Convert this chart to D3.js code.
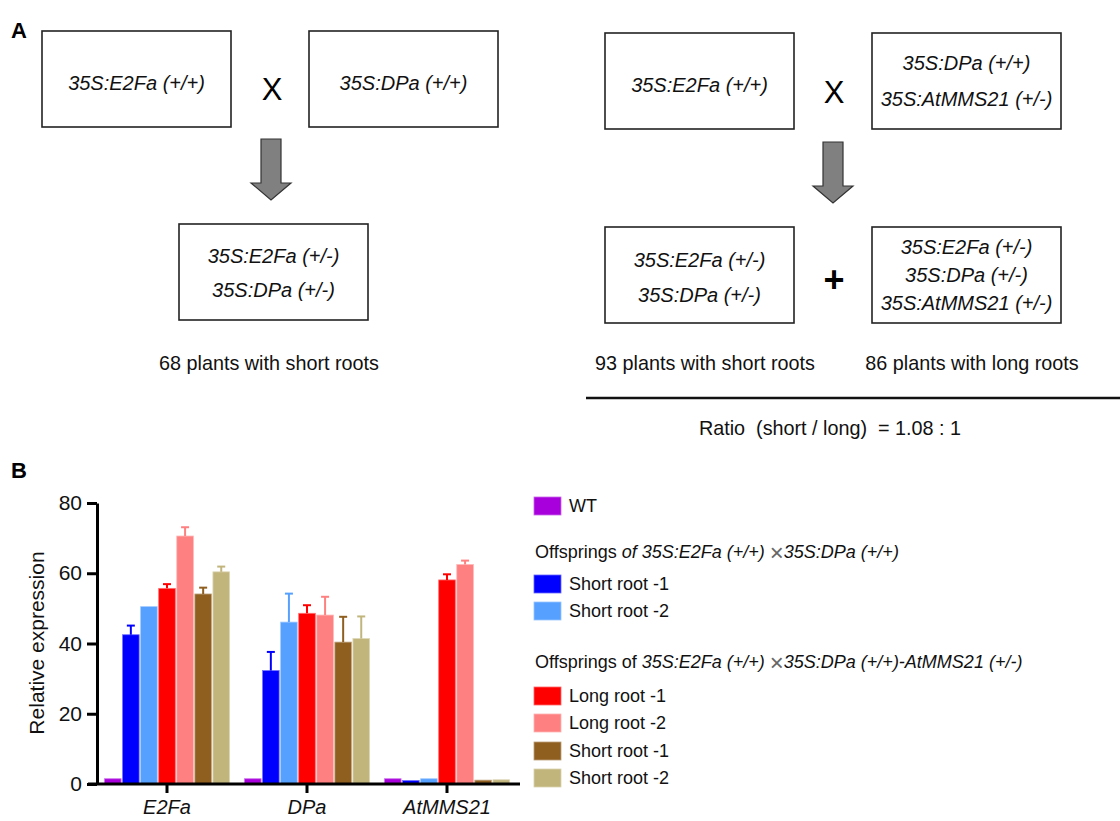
<!DOCTYPE html>
<html>
<head>
<meta charset="utf-8">
<script src="https://cdn.jsdelivr.net/npm/d3@7"></script>
<style>
  body { margin: 0; background: #fff; }
  svg { display: block; font-family: "Liberation Sans", Arial, sans-serif; }
</style>
</head>
<body>
<script>
// ---- data ----
var genes = ["E2Fa", "DPa", "AtMMS21"];
var seriesKeys = ["wt", "s1a", "s2a", "l1", "l2", "s1b", "s2b"];
var wt = [1.5, 1.5, 1.5];
var shortRoot1A = [42.5, 32.3, 1.0];
var shortRoot2A = [50.5, 46.1, 1.5];
var longRoot1 = [55.7, 48.6, 58.1];
var longRoot2 = [70.6, 48.1, 62.5];
var shortRoot1B = [54.1, 40.4, 1.1];
var shortRoot2B = [60.4, 41.4, 1.2];
// upper error bar lengths
var wtErr = [0, 0, 0];
var shortRoot1AErr = [2.6, 5.3, 0];
var shortRoot2AErr = [0, 8.1, 0];
var longRoot1Err = [1.2, 2.3, 1.6];
var longRoot2Err = [2.5, 5.2, 1.1];
var shortRoot1BErr = [1.8, 7.2, 0];
var shortRoot2BErr = [1.5, 6.3, 0];
var yTicks = [0, 20, 40, 60, 80];
var colors = ["#a800dc", "#0000ff", "#56a0ff", "#ff0000", "#ff8080", "#8f5f20", "#c1b57c"];

var means = [wt, shortRoot1A, shortRoot2A, longRoot1, longRoot2, shortRoot1B, shortRoot2B];
var errs = [wtErr, shortRoot1AErr, shortRoot2AErr, longRoot1Err, longRoot2Err, shortRoot1BErr, shortRoot2BErr];

var svg = d3.select("body").append("svg")
    .attr("width", 1120)
    .attr("height", 821);

// ---------------- panel A ----------------
svg.append("text").attr("x", 11).attr("y", 38)
    .attr("font-size", 22).attr("font-weight", "bold").text("A");
svg.append("text").attr("x", 11).attr("y", 478)
    .attr("font-size", 22).attr("font-weight", "bold").text("B");

var boxes = [
  {x: 42, y: 31, lines: ["35S:E2Fa (+/+)"], gap: 0, dy: 4},
  {x: 309, y: 31, lines: ["35S:DPa (+/+)"], gap: 0, dy: 4},
  {x: 179, y: 224, lines: ["35S:E2Fa (+/-)", "35S:DPa (+/-)"], gap: 34, dy: 1},
  {x: 605, y: 33, lines: ["35S:E2Fa (+/+)"], gap: 0, dy: 4},
  {x: 872, y: 33, lines: ["35S:DPa (+/+)", "35S:AtMMS21 (+/-)"], gap: 36, dy: 0},
  {x: 605, y: 227, lines: ["35S:E2Fa (+/-)", "35S:DPa (+/-)"], gap: 35, dy: 2},
  {x: 872, y: 227, lines: ["35S:E2Fa (+/-)", "35S:DPa (+/-)", "35S:AtMMS21 (+/-)"], gap: 28, dy: 0}
];
var bw = 189, bh = 96;
var bg = svg.append("g").selectAll("g").data(boxes).enter().append("g");
bg.append("rect")
    .attr("x", function (d) { return d.x; })
    .attr("y", function (d) { return d.y; })
    .attr("width", bw).attr("height", bh)
    .attr("fill", "none").attr("stroke", "#222").attr("stroke-width", 1.6);
bg.each(function (d) {
  var n = d.lines.length;
  d3.select(this).selectAll("text").data(d.lines).enter().append("text")
      .attr("x", d.x + bw / 2)
      .attr("y", function (t, i) { return d.y + bh / 2 + d.dy + (i - (n - 1) / 2) * d.gap; })
      .attr("text-anchor", "middle").attr("dominant-baseline", "central")
      .attr("font-size", 20).attr("font-style", "italic").attr("fill", "#111")
      .text(function (t) { return t; });
});

// cross / plus symbols
svg.append("text").attr("x", 272).attr("y", 89).attr("text-anchor", "middle")
    .attr("dominant-baseline", "central").attr("font-size", 31).text("X");
svg.append("text").attr("x", 834).attr("y", 92).attr("text-anchor", "middle")
    .attr("dominant-baseline", "central").attr("font-size", 31).text("X");
svg.append("text").attr("x", 834).attr("y", 279).attr("text-anchor", "middle")
    .attr("dominant-baseline", "central").attr("font-size", 36).attr("font-weight", "bold").text("+");

// arrows
function arrow(cx, top) {
  var p = d3.path();
  p.moveTo(cx - 10, top);
  p.lineTo(cx + 10, top);
  p.lineTo(cx + 10, top + 44);
  p.lineTo(cx + 20, top + 44);
  p.lineTo(cx, top + 61);
  p.lineTo(cx - 20, top + 44);
  p.lineTo(cx - 10, top + 44);
  p.closePath();
  svg.append("path").attr("d", p.toString())
      .attr("fill", "#808080").attr("stroke", "#333").attr("stroke-width", 1.2);
}
arrow(271, 139);
arrow(833, 142);

var notes = [
  {x: 269, y: 363, t: "68 plants with short roots"},
  {x: 705, y: 363, t: "93 plants with short roots"},
  {x: 972, y: 363, t: "86 plants with long roots"},
  {x: 830, y: 428, t: "Ratio\u00a0\u00a0(short / long)\u00a0\u00a0= 1.08 : 1"}
];
svg.append("g").selectAll("text").data(notes).enter().append("text")
    .attr("x", function (d) { return d.x; })
    .attr("y", function (d) { return d.y; })
    .attr("text-anchor", "middle").attr("dominant-baseline", "central")
    .attr("font-size", 19.8).attr("fill", "#111")
    .text(function (d) { return d.t; });
svg.append("line").attr("x1", 586).attr("x2", 1120).attr("y1", 398).attr("y2", 398)
    .attr("stroke", "#111").attr("stroke-width", 2.5);

// ---------------- panel B ----------------
var y = d3.scaleLinear().domain([0, 80]).range([784, 503]);
var x0 = d3.scaleBand().domain(genes).range([97, 517]).padding(0);
var x1 = d3.scaleBand().domain(seriesKeys).range([6, 134]).padding(0.08);

var chart = svg.append("g");

var groups = chart.selectAll("g.grp").data(genes).enter().append("g")
    .attr("class", "grp")
    .attr("transform", function (g) { return "translate(" + x0(g) + ",0)"; });

groups.each(function (g, gi) {
  var rows = seriesKeys.map(function (k, si) {
    return {key: k, v: means[si][gi], e: errs[si][gi], c: colors[si]};
  });
  var sel = d3.select(this);
  sel.selectAll("rect").data(rows).enter().append("rect")
      .attr("x", function (d) { return x1(d.key); })
      .attr("width", x1.bandwidth())
      .attr("y", function (d) { return y(d.v); })
      .attr("height", function (d) { return y(0) - y(d.v); })
      .attr("fill", function (d) { return d.c; })
      .attr("stroke", function (d) { return d3.interpolateRgb(d.c, "#fff")(0.45); })
      .attr("stroke-width", 0.8);
  var eb = sel.selectAll("g.err").data(rows.filter(function (d) { return d.e > 0; }))
      .enter().append("g").attr("class", "err");
  eb.append("line")
      .attr("x1", function (d) { return x1(d.key) + x1.bandwidth() / 2; })
      .attr("x2", function (d) { return x1(d.key) + x1.bandwidth() / 2; })
      .attr("y1", function (d) { return y(d.v); })
      .attr("y2", function (d) { return y(d.v + d.e); })
      .attr("stroke", function (d) { return d.c; }).attr("stroke-width", 2);
  eb.append("line")
      .attr("x1", function (d) { return x1(d.key) + x1.bandwidth() / 2 - 4; })
      .attr("x2", function (d) { return x1(d.key) + x1.bandwidth() / 2 + 4; })
      .attr("y1", function (d) { return y(d.v + d.e); })
      .attr("y2", function (d) { return y(d.v + d.e); })
      .attr("stroke", function (d) { return d.c; }).attr("stroke-width", 2);
});

// y axis
var yAxis = chart.append("g").attr("transform", "translate(97,0)")
    .call(d3.axisLeft(y).tickValues(yTicks).tickSize(10).tickSizeOuter(0).tickPadding(5));
yAxis.select(".domain").attr("stroke", "#000").attr("stroke-width", 3);
yAxis.selectAll(".tick line").attr("stroke", "#000").attr("stroke-width", 3);
yAxis.selectAll(".tick text").attr("font-size", 21).attr("fill", "#111")
    .attr("font-family", "Liberation Sans, Arial, sans-serif");

// x axis
var xAxis = chart.append("g").attr("transform", "translate(0,784)")
    .call(d3.axisBottom(x0).tickSize(9).tickSizeOuter(0).tickPadding(7));
xAxis.select(".domain").attr("transform", "translate(97,0)").attr("d", "M-9,0H423")
    .attr("stroke", "#000").attr("stroke-width", 3);
xAxis.selectAll(".tick line").attr("stroke", "#000").attr("stroke-width", 3);
xAxis.selectAll(".tick text").attr("font-size", 20).attr("font-style", "italic").attr("fill", "#111")
    .attr("font-family", "Liberation Sans, Arial, sans-serif");

chart.append("text")
    .attr("transform", "translate(36,643) rotate(-90)")
    .attr("text-anchor", "middle").attr("dominant-baseline", "central")
    .attr("font-size", 21).attr("fill", "#111")
    .text("Relative expression");

// legend
var legendItems = [
  {i: 0, y: 506, label: "WT"},
  {i: 1, y: 584, label: "Short root -1"},
  {i: 2, y: 611, label: "Short root -2"},
  {i: 3, y: 696, label: "Long root -1"},
  {i: 4, y: 723, label: "Long root -2"},
  {i: 5, y: 751, label: "Short root -1"},
  {i: 6, y: 778, label: "Short root -2"}
];
var lg = svg.append("g").selectAll("g").data(legendItems).enter().append("g");
lg.append("rect")
    .attr("x", 534).attr("width", 27).attr("height", 18)
    .attr("y", function (d) { return d.y - 9; })
    .attr("fill", function (d) { return colors[d.i]; })
    .attr("stroke", function (d) { return d3.interpolateRgb(colors[d.i], "#fff")(0.4); })
    .attr("stroke-width", 0.8);
lg.append("text")
    .attr("x", 569).attr("y", function (d) { return d.y; })
    .attr("dominant-baseline", "central").attr("font-size", 18).attr("fill", "#111")
    .text(function (d) { return d.label; });

var headers = [
  {y: 552, parts: [["Offsprings ", "normal"], ["of 35S:E2Fa (+/+) ", "italic"], ["\u00d7", "normal"], ["35S:DPa (+/+)", "italic"]]},
  {y: 662, parts: [["Offsprings of ", "normal"], ["35S:E2Fa (+/+) ", "italic"], ["\u00d7", "normal"], ["35S:DPa (+/+)-AtMMS21 (+/-)", "italic"]]}
];
var hd = svg.append("g").selectAll("text").data(headers).enter().append("text")
    .attr("x", 535).attr("y", function (d) { return d.y; })
    .attr("dominant-baseline", "central").attr("font-size", 18).attr("fill", "#111");
hd.selectAll("tspan").data(function (d) { return d.parts; }).enter().append("tspan")
    .attr("font-style", function (p) { return p[1]; })
    .attr("font-size", function (p) { return p[0] === "\u00d7" ? 24 : 18; })
    .attr("fill", function (p) { return p[0] === "\u00d7" ? "#666" : "#111"; })
    .text(function (p) { return p[0]; });
</script>
</body>
</html>
